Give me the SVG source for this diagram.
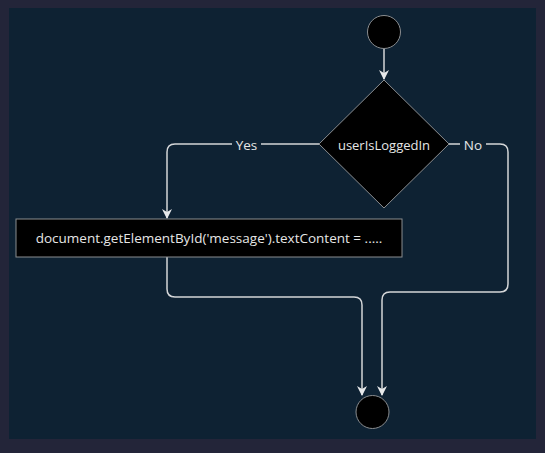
<svg xmlns="http://www.w3.org/2000/svg" width="545" height="453" viewBox="0 0 545 453">
<defs>
<style>
.edge{fill:none;stroke:#d4d6d8;stroke-width:1.5}
.node{fill:#000;stroke:#8a8d90;stroke-width:1}
.t{font-family:"Open Sans","Noto Sans",sans-serif;font-size:13px;fill:#e6e6e6;text-anchor:middle;dominant-baseline:central}
.lbl{fill:#0e2233}
</style>
<marker id="ah" viewBox="0 0 10 10" refX="9" refY="5" markerWidth="10" markerHeight="10" markerUnits="userSpaceOnUse" orient="auto">
<path d="M0,0 L10,5 L0,10 L3,5 Z" fill="#e6e8ea"/>
</marker>
</defs>
<rect x="0" y="0" width="545" height="453" fill="#232539"/>
<rect x="9" y="8" width="527" height="431" fill="#0e2233"/>
<g id="connectors">
<path class="edge" d="M384,49 V79" marker-end="url(#ah)"/>
<path class="edge" d="M319,144 H175 Q167,144 167,152 V218" marker-end="url(#ah)"/>
<path class="edge" d="M167,257 V289 Q167,297 175,297 H354 Q362,297 362,305 V395" marker-end="url(#ah)"/>
<path class="edge" d="M449,144 H500 Q508,144 508,152 V284 Q508,292 500,292 H390 Q382,292 382,300 V395" marker-end="url(#ah)"/>
<rect class="lbl" x="232" y="135" width="29" height="18"/>
<text class="t" x="246.5" y="144.5" style="font-size:13.5px">Yes</text>
<rect class="lbl" x="460" y="135" width="26" height="18"/>
<text class="t" x="473" y="144.5" style="font-size:13.5px">No</text>
</g>
<g id="start">
<circle class="node" cx="384" cy="32" r="16.5"/>
</g>
<g id="decision">
<polygon class="node" points="384,80 449,144 384,208 319,144"/>
<text class="t" x="384" y="144.5">userIsLoggedIn</text>
</g>
<g id="action">
<rect class="node" x="16" y="219" width="386" height="38"/>
<text class="t" x="209" y="238" style="font-size:13.5px">document.getElementById('message').textContent = .....</text>
</g>
<g id="end">
<circle class="node" cx="372.5" cy="412" r="16.5"/>
</g>
</svg>
